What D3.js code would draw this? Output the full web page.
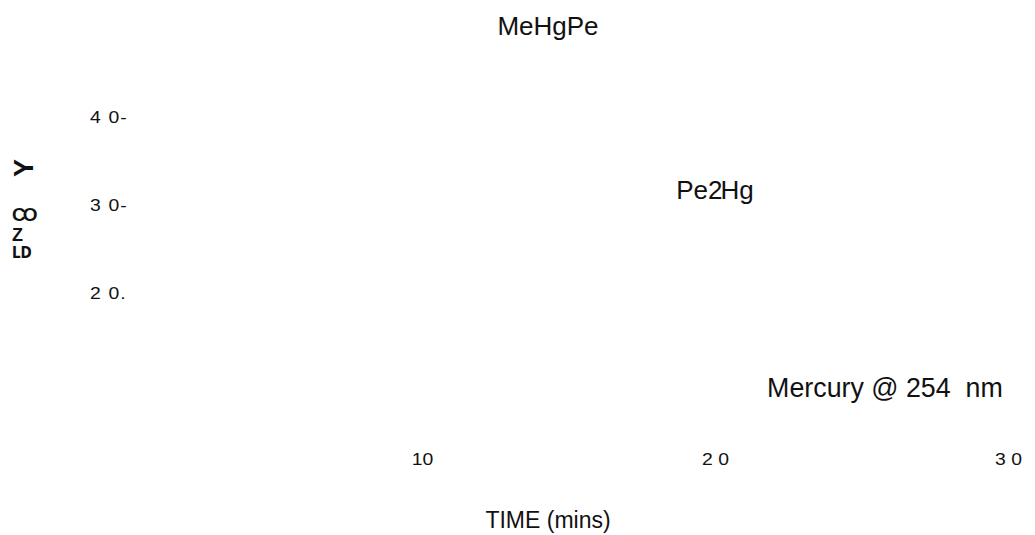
<!DOCTYPE html>
<html>
<head>
<meta charset="utf-8">
<script src="https://cdn.jsdelivr.net/npm/d3@7"></script>
<style>
  html, body { margin: 0; padding: 0; background: #fff; }
  svg { display: block; font-family: "Liberation Sans", Arial, sans-serif; }
  .tick text { font-family: "Liberation Sans", Arial, sans-serif; }
</style>
</head>
<body>
<svg id="chart" width="1035" height="535"></svg>
<script>
// Time axis (minutes)
const xTicks = [10, 20, 30];
const xTickLabels = ["10", "2 0", "3 0"];

// Detector response axis
const yTicks = [20, 30, 40];
const yTickLabels = ["2 0.", "3 0-", "4 0-"];

// Peak annotations: retention time and height on the response scale
const peakNames = ["MeHgPe", "Pe2Hg"];
const peakTimes = [14.3, 20.0];
const peakHeights = [49.3, 30.7];

// Detector note
const detectorNote = "Mercury @ 254  nm";
const detectorTime = 25.8;
const detectorLevel = 8.2;

const xTitle = "TIME (mins)";
// Vertical axis caption fragments
const yCaptionParts = ["Y", "CO", "Z", "LD"];

const svg = d3.select("#chart");

const x = d3.scaleLinear().domain([0, 30]).range([129, 1008]);
const y = d3.scaleLinear().domain([20, 40]).range([293, 117]);

// Tick labels are set in a slightly extended face
const tickStretch = 1.14;
const tickFont = 17;

// Bottom axis: labels only
const xAxis = d3.axisBottom(x)
  .tickValues(xTicks)
  .tickFormat((d, i) => xTickLabels[i])
  .tickSize(0)
  .tickPadding(0);
const gx = svg.append("g")
  .attr("transform", "translate(0,453)")
  .call(xAxis)
  .attr("font-size", tickFont)
  .attr("font-family", "'Liberation Sans', Arial, sans-serif");
gx.select(".domain").remove();
gx.selectAll("text")
  .attr("fill", "#111")
  .attr("font-size", tickFont)
  .attr("transform", `scale(${tickStretch},1)`);

// Left axis: labels only
const yAxis = d3.axisLeft(y)
  .tickValues(yTicks)
  .tickFormat((d, i) => yTickLabels[i])
  .tickSize(0)
  .tickPadding(0);
const gy = svg.append("g")
  .attr("transform", "translate(127,0)")
  .call(yAxis)
  .attr("font-size", tickFont)
  .attr("font-family", "'Liberation Sans', Arial, sans-serif");
gy.select(".domain").remove();
gy.selectAll("text")
  .attr("fill", "#111")
  .attr("text-anchor", "start")
  .attr("x", -37 / tickStretch)
  .attr("font-size", tickFont)
  .attr("letter-spacing", "1px")
  .attr("transform", `scale(${tickStretch},1)`);

// Peak labels
const peaks = svg.append("g")
  .attr("font-size", 26)
  .attr("fill", "#111")
  .attr("text-anchor", "middle");

peaks.append("text")
  .attr("x", x(peakTimes[0]))
  .attr("y", y(peakHeights[0]))
  .text(peakNames[0]);

const pe2 = peaks.append("text")
  .attr("x", x(peakTimes[1]))
  .attr("y", y(peakHeights[1]));
pe2.append("tspan").text("Pe2");
pe2.append("tspan").attr("dx", -2).text("Hg");

// Detector note
svg.append("text")
  .attr("x", x(detectorTime))
  .attr("y", y(detectorLevel))
  .attr("text-anchor", "middle")
  .attr("font-size", 26.8)
  .attr("fill", "#111")
  .attr("xml:space", "preserve")
  .style("white-space", "pre")
  .text(detectorNote);

// Axis title
svg.append("text")
  .attr("x", 548)
  .attr("y", 528)
  .attr("text-anchor", "middle")
  .attr("font-size", 23)
  .attr("fill", "#111")
  .text(xTitle);

// Vertical caption fragments
svg.append("text")
  .attr("transform", "translate(33,168) rotate(-90)")
  .attr("text-anchor", "middle")
  .attr("font-size", 27)
  .attr("font-weight", "bold")
  .attr("fill", "#111")
  .text(yCaptionParts[0]);

svg.append("text")
  .attr("x", 12)
  .attr("y", 221)
  .attr("font-size", 19)
  .attr("font-weight", "bold")
  .attr("letter-spacing", "-3px")
  .attr("fill", "#111")
  .text(yCaptionParts[1]);

svg.append("text")
  .attr("x", 12)
  .attr("y", 241)
  .attr("font-size", 18)
  .attr("font-weight", "bold")
  .attr("fill", "#111")
  .text(yCaptionParts[2]);

svg.append("text")
  .attr("x", 12)
  .attr("y", 258)
  .attr("font-family", "'DejaVu Sans Condensed', 'DejaVu Sans', sans-serif")
  .attr("font-stretch", "condensed")
  .attr("font-weight", "bold")
  .attr("font-size", 15)
  .attr("fill", "#111")
  .text(yCaptionParts[3]);
</script>
</body>
</html>
